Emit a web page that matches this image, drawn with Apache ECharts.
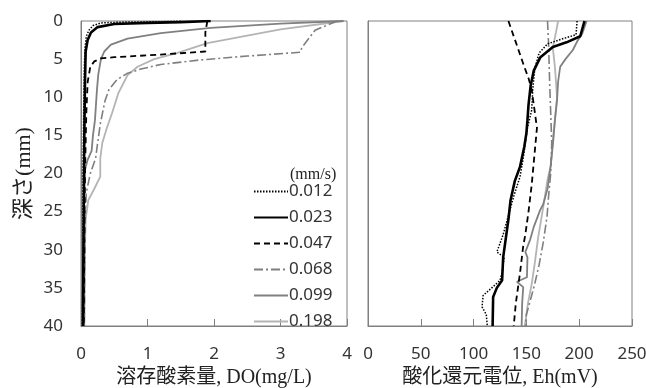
<!DOCTYPE html>
<html>
<head>
<meta charset="utf-8">
<script src="https://cdn.jsdelivr.net/npm/echarts@6/dist/echarts.min.js"></script>
<style>html,body{margin:0;padding:0;background:#fff}#c{width:646px;height:388px}</style>
</head>
<body>
<div id="c"></div>
<script>
// Series names (flow velocity, mm/s)
const seriesNames = ['0.012', '0.023', '0.047', '0.068', '0.099', '0.198'];
const depthTicks = [0, 5, 10, 15, 20, 25, 30, 35, 40];
const doTicks = [0, 1, 2, 3, 4];
const ehTicks = [0, 50, 100, 150, 200, 250];

// DO profiles: [DO (mg/L), depth (mm)]
const DO_0012 = [[1.5,0],[1.2,0.1],[0.6,0.15],[0.3,0.25],[0.18,0.6],[0.12,1.2],[0.08,2],[0.06,3.5],[0.05,6],[0.04,12],[0.03,20],[0.03,30],[0.02,40]];
const DO_0023 = [[1.95,0],[1.5,0.15],[1.0,0.25],[0.5,0.4],[0.25,0.8],[0.15,1.5],[0.1,2.5],[0.07,4],[0.06,8],[0.05,15],[0.04,25],[0.03,40]];
const DO_0047 = [[1.9,0],[1.87,1.5],[1.87,4.0],[1.2,4.4],[0.5,4.75],[0.3,4.9],[0.2,5.3],[0.14,6],[0.1,8],[0.08,12],[0.06,20],[0.05,30],[0.04,40]];
const DO_0068 = [[3.85,0],[3.52,1.2],[3.32,3.5],[3.3,4.1],[2.5,4.6],[1.8,5.1],[1.2,5.7],[0.9,6.3],[0.69,6.9],[0.54,7.7],[0.42,9],[0.36,10.5],[0.29,13.5],[0.25,16],[0.22,18],[0.14,20],[0.08,22.5],[0.06,26],[0.05,40]];
const DO_0099 = [[3.95,0],[3.0,0.35],[1.95,0.9],[1.2,1.6],[0.7,2.3],[0.45,3.1],[0.35,4.0],[0.3,5.0],[0.26,7],[0.24,9],[0.21,13],[0.18,15],[0.16,17],[0.1,18.2],[0.06,19.5],[0.05,22],[0.04,30],[0.04,40]];
const DO_0198 = [[3.95,0],[3.0,1.1],[1.9,2.9],[1.44,4.2],[1.1,5.0],[0.85,6.0],[0.7,7.1],[0.56,9.5],[0.47,12],[0.39,14],[0.32,16],[0.29,18],[0.29,20.4],[0.2,22],[0.11,23.5],[0.07,26],[0.06,30],[0.05,40]];

// Eh profiles: [Eh (mV), depth (mm)]
const EH_0012 = [[198,0],[197,1.8],[185,2.3],[170,3.0],[162,4.2],[158,6.2],[156,9],[155,11.7],[151,14],[147,18],[144,20.4],[138,23],[134,25],[128,28],[122,30.3],[129,31],[127,33],[125,34],[122,34.4],[109,36],[108,37.5],[112,38.5],[113,40]];
const EH_0023 = [[205,0],[201,2.0],[188,2.8],[175,3.4],[163,4.8],[157,6.5],[154,8.5],[152,11],[151,13],[150,14.7],[148,16.5],[144,19.1],[139,21],[135,23.5],[133,26],[131,28],[130,29],[128,31],[127,34],[122,35],[118.5,36.2],[118,40]];
const EH_0047 = [[133,0],[138,2],[143,4],[148,6],[152,7.5],[155,9],[157,11],[160,14],[158,17],[156,20],[155,21.5],[152,25],[149,28],[147,29.5],[144,33],[142,35],[140,37],[138,40]];
const EH_0068 = [[170,0],[171,3],[172,8],[173,12],[174,16],[173,20],[171,23],[169.5,25.7],[166,29],[162,32],[158,34.4],[154,36.5],[150,38.5],[149,40]];
const EH_0099 = [[207,0],[203,1.6],[198,2.7],[194,3.8],[187,5],[182,6],[180,8],[179,10.4],[177,13],[175.5,15.6],[173,19],[170,22],[166,24],[163,24.8],[157,27],[153.5,28.7],[149,30.3],[151,31],[150.5,33.6],[141,34.2],[147,34.9],[146,37],[145.5,40]];
const EH_0198 = [[180,0],[178,1.5],[175,3.5],[177,6],[179,10],[177,13],[175.5,15],[173,19],[170,20.8],[167,23.5],[165,25.2],[161,28.5],[158,31.7],[155,34.5],[151.5,37],[150,38.5],[148.5,40]];

const doData = [DO_0012, DO_0023, DO_0047, DO_0068, DO_0099, DO_0198];
const ehData = [EH_0012, EH_0023, EH_0047, EH_0068, EH_0099, EH_0198];

const styles = [
  {color:'#000000', width:1.5, type:[1.5,1.5], z:6},
  {color:'#000000', width:2.6, type:'solid', z:5},
  {color:'#000000', width:1.8, type:[6,4], z:4},
  {color:'#7f7f7f', width:1.6, type:[9,3,2,3], z:3},
  {color:'#808080', width:1.8, type:'solid', z:2},
  {color:'#b4b4b4', width:1.8, type:'solid', z:1}
];

const sans = "'Noto Sans', sans-serif";
const titleFont = "'Liberation Serif','Noto Sans CJK JP', serif";
const axisGray = '#808080';

function mkSeries(data, gi) {
  return seriesNames.map((n, i) => ({
    name: n, type: 'line', xAxisIndex: gi, yAxisIndex: gi,
    data: data[i], symbol: 'none', showSymbol: false, z: styles[i].z,
    lineStyle: {color: styles[i].color, width: styles[i].width, type: styles[i].type},
    itemStyle: {color: styles[i].color},
    animation: false
  }));
}

function xAx(gi, min, max, interval, name) {
  return {
    type: 'value', gridIndex: gi, min: min, max: max, interval: interval,
    position: 'bottom',
    name: name, nameLocation: 'middle', nameGap: 39,
    nameTextStyle: {fontFamily: titleFont, fontSize: 20, color: '#222'},
    axisLine: {show: true, onZero: false, lineStyle: {color: axisGray, width: 1}},
    axisTick: {show: true, inside: true, length: 7, lineStyle: {color: axisGray}},
    axisLabel: {show: true, margin: 20, fontFamily: sans, fontSize: 17, color: '#333'},
    splitLine: {show: false}
  };
}
function yAx(gi, showLabels) {
  return {
    type: 'value', gridIndex: gi, min: 0, max: 40, interval: 5, inverse: true,
    name: showLabels ? '深さ(mm)' : '', nameLocation: 'middle', nameGap: 46, nameRotate: 90,
    nameTextStyle: {fontFamily: titleFont, fontSize: 22, color: '#222'},
    axisLine: {show: true, lineStyle: {color: axisGray, width: 1}},
    axisTick: {show: false},
    axisLabel: {show: showLabels, margin: 18, fontFamily: sans, fontSize: 17, color: '#333'},
    splitLine: {show: false}
  };
}

const chart = echarts.init(document.getElementById('c'), null, {renderer: 'canvas'});
chart.setOption({
  animation: false,
  backgroundColor: '#fff',
  grid: [
    {left: 81, top: 21, width: 266, height: 305, show: true, borderColor: axisGray, borderWidth: 1, backgroundColor: 'transparent', containLabel: false, outerBoundsMode: 'none'},
    {left: 368, top: 21, width: 264, height: 305, show: true, borderColor: axisGray, borderWidth: 1, backgroundColor: 'transparent', containLabel: false, outerBoundsMode: 'none'}
  ],
  xAxis: [
    xAx(0, doTicks[0], doTicks[doTicks.length-1], 1, '溶存酸素量, DO(mg/L)'),
    xAx(1, ehTicks[0], ehTicks[ehTicks.length-1], 50, '酸化還元電位, Eh(mV)')
  ],
  yAxis: [yAx(0, true), yAx(1, false)],
  legend: {
    data: seriesNames, orient: 'vertical', left: 248, top: 178,
    itemWidth: 34, itemHeight: 14, itemGap: 9, selectedMode: false,
    itemStyle: {opacity: 0},
    textStyle: {fontFamily: sans, fontSize: 17, color: '#333', padding: [0,0,0,-4]}
  },
  graphic: [
    {type: 'text', left: 290, top: 167, style: {text: '(mm/s)', font: "16px 'Liberation Serif', serif", fill: '#222'}}
  ],
  series: mkSeries(doData, 0).concat(mkSeries(ehData, 1))
});
</script>
</body>
</html>
